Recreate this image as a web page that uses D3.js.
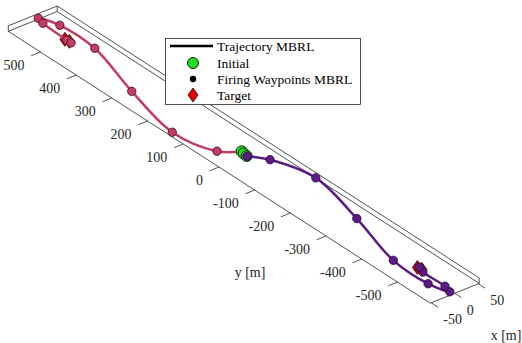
<!DOCTYPE html>
<html>
<head>
<meta charset="utf-8">
<script src="https://cdn.jsdelivr.net/npm/d3@7"></script>
</head>
<body style="margin:0">
<div id="chart"></div>
<script>
// axis limits and ticks
const xLim = [-52, 52];
const yLim = [-592, 590];
const zLim = [0, 10];
const xTicks = [-50, 0, 50];
const yTicks = [-500, -400, -300, -200, -100, 0, 100, 200, 300, 400, 500];
const flightZ = 5;

// run towards the +y target (waypoints the trajectory passes through)
const runAx = [4, -28, -48, -18, 21, 22, 8, 4, 1, 1];
const runAy = [10, 37, 136, 289, 444, 543, 585, 567, 496, 484];
// run towards the -y target
const runBx = [1, 24, 47, 18, -19, -21, -9, -4, -4, 1];
const runBy = [-9, -43, -141, -294, -445, -545, -590, -570, -508, -491];

const initX = [4, 2, 1];
const initY = [10, 2, -8];
const targetX = [0, 2, 0, -2];
const targetY = [500, 490, -500, -490];

const W = 522, H = 343;
const FONT = '"Liberation Serif"';

const svg = d3.select("#chart").append("svg")
    .attr("width", W)
    .attr("height", H)
    .style("display", "block");

// box coords -> [0,1]
const sx = d3.scaleLinear().domain(xLim).range([0, 1]);
const sy = d3.scaleLinear().domain(yLim).range([0, 1]);
const sz = d3.scaleLinear().domain(zLim).range([0, 1]);

// screen position of (xmin, ymin, zmin) and the three box edges on screen
const corner = [430.3, 303.2];
const edgeX = [48.9, -19.8];
const edgeY = [-422, -271.9];
const edgeZ = [0, -5.5];

function proj(x, y, z) {
    const a = sx(x), b = sy(y), c = sz(z);
    return [
        corner[0] + a * edgeX[0] + b * edgeY[0] + c * edgeZ[0],
        corner[1] + a * edgeX[1] + b * edgeY[1] + c * edgeZ[1]
    ];
}

// box (back planes, like matlab's default)
const [x0, x1] = xLim, [y0, y1] = yLim, [z0, z1] = zLim;
const boxEdges = [
    [[x0, y0, z0], [x1, y0, z0]],
    [[x0, y1, z0], [x1, y1, z0]],
    [[x0, y0, z0], [x0, y1, z0]],
    [[x1, y0, z0], [x1, y1, z0]],
    [[x1, y0, z1], [x1, y1, z1]],
    [[x0, y1, z1], [x1, y1, z1]],
    [[x1, y0, z0], [x1, y0, z1]],
    [[x1, y1, z0], [x1, y1, z1]],
    [[x0, y1, z0], [x0, y1, z1]]
];

svg.append("g")
    .selectAll("line")
    .data(boxEdges)
    .join("line")
    .attr("x1", d => proj(...d[0])[0])
    .attr("y1", d => proj(...d[0])[1])
    .attr("x2", d => proj(...d[1])[0])
    .attr("y2", d => proj(...d[1])[1])
    .attr("stroke", "#262626")
    .attr("stroke-width", 0.8);

// ticks point outwards from the front edges
const exLen = Math.hypot(edgeX[0], edgeX[1]);
const eyLen = Math.hypot(edgeY[0], edgeY[1]);
const yTickDir = [-edgeX[0] / exLen * 10, -edgeX[1] / exLen * 10];
const xTickDir = [-edgeY[0] / eyLen * 8, -edgeY[1] / eyLen * 8];

function label(x, y, str, anchor, size) {
    return svg.append("text")
        .attr("x", x)
        .attr("y", y)
        .attr("text-anchor", anchor)
        .attr("dominant-baseline", "central")
        .style("font-family", FONT)
        .style("font-size", size + "px")
        .style("fill", "#262626")
        .text(str);
}

yTicks.forEach(t => {
    const p = proj(x0, t, z0);
    svg.append("line")
        .attr("x1", p[0]).attr("y1", p[1])
        .attr("x2", p[0] + yTickDir[0]).attr("y2", p[1] + yTickDir[1])
        .attr("stroke", "#262626")
        .attr("stroke-width", 0.8);
    label(p[0] - 16, p[1] + 13, t, "end", 14);
});

xTicks.forEach(t => {
    const p = proj(t, y0, z0);
    svg.append("line")
        .attr("x1", p[0]).attr("y1", p[1])
        .attr("x2", p[0] + xTickDir[0]).attr("y2", p[1] + xTickDir[1])
        .attr("stroke", "#262626")
        .attr("stroke-width", 0.8);
    label(p[0] + 12, p[1] + 17, t, "start", 14);
});

label(250, 272, "y [m]", "middle", 14);
label(506, 335, "x [m]", "middle", 14);

const line = d3.line().curve(d3.curveCatmullRom.alpha(0.5));

function diamond(cx, cy, w, h) {
    return `M${cx},${cy - h}L${cx + w},${cy}L${cx},${cy + h}L${cx - w},${cy}Z`;
}

// targets
svg.append("g")
    .selectAll("path")
    .data(d3.range(targetX.length))
    .join("path")
    .attr("d", i => {
        const p = proj(targetX[i], targetY[i], flightZ);
        return diamond(p[0], p[1], 5, 7);
    })
    .attr("fill", "#e00000")
    .attr("stroke", "#3a0000")
    .attr("stroke-width", 0.8);

function drawRun(xs, ys, lineColor, fill, edge) {
    const pts = xs.map((x, i) => proj(x, ys[i], flightZ));
    const g = svg.append("g");
    g.append("path")
        .attr("d", line(pts))
        .attr("fill", "none")
        .attr("stroke", lineColor)
        .attr("stroke-width", 2.5);
    g.selectAll("circle")
        .data(pts)
        .join("circle")
        .attr("cx", d => d[0])
        .attr("cy", d => d[1])
        .attr("r", 4.2)
        .attr("fill", fill)
        .attr("stroke", edge)
        .attr("stroke-width", 0.8);
}

drawRun(runAx, runAy, "#c23c63", "#c23c63", "#3a0d1c");

// initial positions
svg.append("g")
    .selectAll("circle")
    .data(d3.range(initX.length))
    .join("circle")
    .attr("cx", i => proj(initX[i], initY[i], flightZ)[0])
    .attr("cy", i => proj(initX[i], initY[i], flightZ)[1])
    .attr("r", 5.5)
    .attr("fill", "#22dd22")
    .attr("stroke", "#0a2a0a")
    .attr("stroke-width", 1);

drawRun(runBx, runBy, "#5c1a82", "#5c1a82", "#220833");

// legend
const legend = svg.append("g");
legend.append("rect")
    .attr("x", 165.5).attr("y", 38.5)
    .attr("width", 195).attr("height", 66)
    .attr("fill", "#fff")
    .attr("stroke", "#262626")
    .attr("stroke-width", 0.8);

const legendItems = ["Trajectory MBRL", "Initial", "Firing Waypoints MBRL", "Target"];
const legendY = [46, 63, 79, 95];

legend.append("line")
    .attr("x1", 170).attr("x2", 213)
    .attr("y1", legendY[0]).attr("y2", legendY[0])
    .attr("stroke", "#000")
    .attr("stroke-width", 2.5);
legend.append("circle")
    .attr("cx", 193).attr("cy", legendY[1]).attr("r", 5.5)
    .attr("fill", "#22dd22").attr("stroke", "#0a2a0a").attr("stroke-width", 1);
legend.append("circle")
    .attr("cx", 193).attr("cy", legendY[2]).attr("r", 3.2)
    .attr("fill", "#000");
legend.append("path")
    .attr("d", diamond(193, legendY[3], 5, 7))
    .attr("fill", "#e00000").attr("stroke", "#3a0000").attr("stroke-width", 0.8);

legendItems.forEach((d, i) => {
    legend.append("text")
        .attr("x", 217)
        .attr("y", legendY[i])
        .attr("dominant-baseline", "central")
        .style("font-family", FONT)
        .style("font-size", "13.5px")
        .style("fill", "#000")
        .text(d);
});
</script>
</body>
</html>
